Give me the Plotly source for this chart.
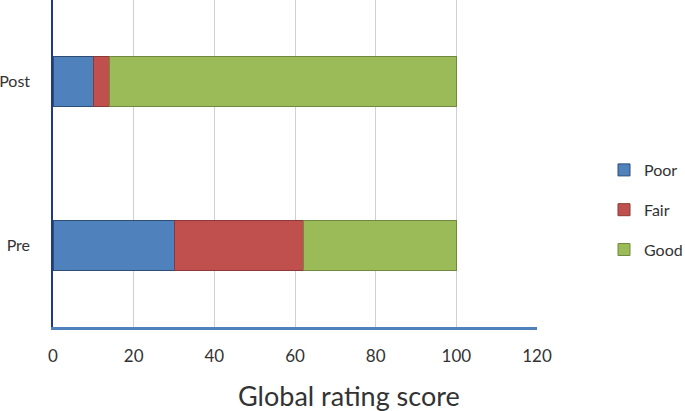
import plotly.graph_objects as go

# ratings per session
sessions = ['Pre', 'Post']
poor = [30, 10]
fair = [32, 4]
good = [38, 86]

fig = go.Figure()
fig.add_trace(go.Bar(name='Poor', y=sessions, x=poor, orientation='h', legendgroup='a',
                     marker=dict(color='#4F81BD', line=dict(color='#2C4D75', width=1))))
fig.add_trace(go.Bar(name='Fair', y=sessions, x=fair, orientation='h', legendgroup='b',
                     marker=dict(color='#C0504D', line=dict(color='#8C3836', width=1))))
fig.add_trace(go.Bar(name='Good', y=sessions, x=good, orientation='h', legendgroup='c',
                     marker=dict(color='#9BBB59', line=dict(color='#71893F', width=1))))

fig.update_layout(
    barmode='stack', bargap=0.695,
    width=685, height=411,
    margin=dict(l=53, r=148, t=0, b=84),
    plot_bgcolor='white', paper_bgcolor='white',
    font=dict(family='Lato', size=16, color='#333333'),
    legend=dict(xref='container', yref='container', x=604 / 685, xanchor='left',
                y=1 - 153 / 411, yanchor='top',
                traceorder='grouped', tracegroupgap=16, font=dict(size=16),
                itemwidth=30),
    xaxis=dict(range=[0, 120], dtick=20, showgrid=True, gridcolor='#D0D0D0', gridwidth=1,
               showline=True, linecolor='#4F81BD', linewidth=2.5, zeroline=False,
               ticks='', ticklabelstandoff=12, tickfont=dict(size=17)),
    yaxis=dict(showline=True, linecolor='#1F3A8A', linewidth=1.5, ticks='',
               ticklabelstandoff=18, tickfont=dict(size=16), range=[-0.5, 1.5]),
)

fig.add_annotation(text='Global rating score', xref='paper', yref='paper', x=(349 - 53) / 484,
                   y=(327 - 395) / 327, xanchor='center', yanchor='middle', showarrow=False,
                   font=dict(size=27, color='#333333'))

fig.write_html('out.html', config={'displayModeBar': False},
               post_script="document.body.style.margin='0';")
